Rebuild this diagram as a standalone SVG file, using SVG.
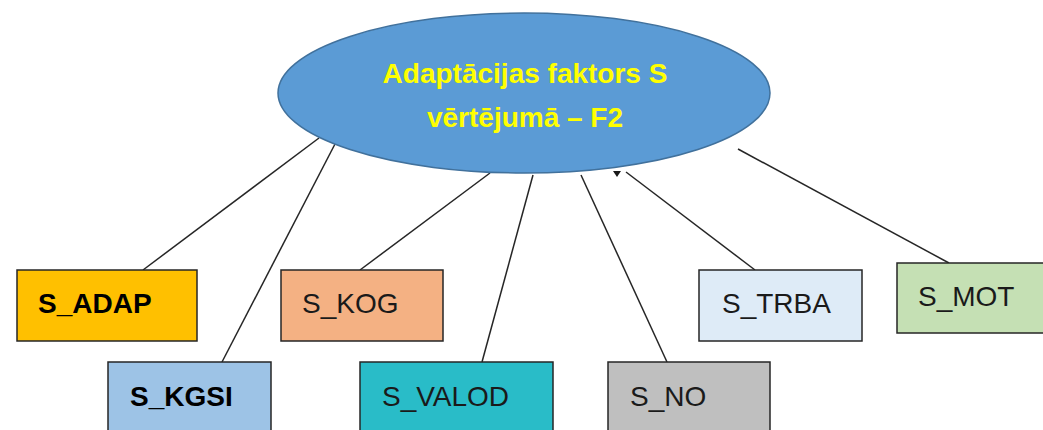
<svg xmlns="http://www.w3.org/2000/svg" width="1043" height="430" viewBox="0 0 1043 430">
<style>
.box{stroke:#262626;stroke-width:1.5}
.lbl{font-family:"Liberation Sans",Arial,sans-serif;font-size:28px;fill:#1a1a1a}
.b{font-weight:bold;fill:#000}
.title{font-family:"Liberation Sans",Arial,sans-serif;font-size:28px;font-weight:bold;fill:#FFFF00;text-anchor:middle}
.conn line{stroke:#262626;stroke-width:1.5}
</style>
<rect width="1043" height="430" fill="#ffffff"/>
<g id="connectors" class="conn">
<line x1="319" y1="138" x2="143" y2="270"/>
<line x1="335" y1="144" x2="222" y2="362"/>
<line x1="490" y1="173" x2="360" y2="270"/>
<line x1="533" y1="175" x2="482" y2="362"/>
<line x1="581" y1="175" x2="667" y2="362"/>
<line x1="626" y1="172" x2="755" y2="270"/>
<line x1="738" y1="149" x2="949" y2="263"/>
</g>
<g id="root">
<ellipse cx="524" cy="93" rx="246" ry="80" fill="#5B9BD5" stroke="#41719C" stroke-width="1.5"/>
<polygon points="613,171 621,171 617,177" fill="#1a1a1a"/>
<text class="title" x="525" y="83">Adaptācijas faktors S</text>
<text class="title" x="525" y="127">vērtējumā – F2</text>
</g>
<g id="n_adap"><rect class="box" x="17" y="270" width="180" height="71" fill="#FFC000"/><text class="lbl b" x="38" y="313">S_ADAP</text></g>
<g id="n_kgsi"><rect class="box" x="108" y="362" width="163" height="80" fill="#9DC3E6"/><text class="lbl b" x="130" y="406">S_KGSI</text></g>
<g id="n_kog"><rect class="box" x="281" y="270" width="162" height="71" fill="#F4B183"/><text class="lbl" x="302" y="313">S_KOG</text></g>
<g id="n_valod"><rect class="box" x="360" y="362" width="193" height="80" fill="#29BCC8"/><text class="lbl" x="382" y="406">S_VALOD</text></g>
<g id="n_no"><rect class="box" x="608" y="362" width="162" height="80" fill="#BFBFBF"/><text class="lbl" x="630" y="406">S_NO</text></g>
<g id="n_trba"><rect class="box" x="699" y="270" width="163" height="71" fill="#DEEBF7"/><text class="lbl" x="722" y="313">S_TRBA</text></g>
<g id="n_mot"><rect class="box" x="897" y="263" width="160" height="70" fill="#C5E0B4"/><text class="lbl" x="918" y="306">S_MOT</text></g>
</svg>
